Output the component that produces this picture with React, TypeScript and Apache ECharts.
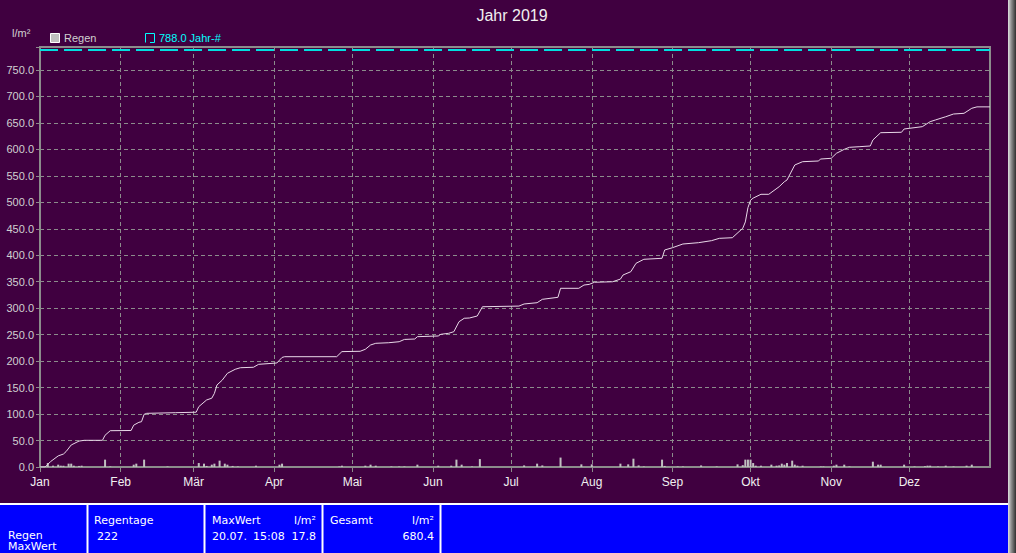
import React, { useEffect, useRef } from 'react';
import * as echarts from 'echarts';

const TITLE = 'Jahr 2019';
const UNIT = 'l/m²';
const MONTHS = ['Jan', 'Feb', 'Mär', 'Apr', 'Mai', 'Jun', 'Jul', 'Aug', 'Sep', 'Okt', 'Nov', 'Dez'];
const MONTH_START_DAYS = [0, 31, 59, 90, 120, 151, 181, 212, 243, 273, 304, 334];
const DAYS_IN_YEAR = 365;
const Y_MAX = 793.5;
const Y_STEP = 50;
const YEAR_MARK = 788.0;
const YEAR_MARK_NAME = 'Jahr-#';
const RAIN_NAME = 'Regen';

// cumulative rain (day of year, l/m²)
const CUM_DAYS = [0, 2, 4, 7, 9, 10, 12, 15, 17, 24, 25, 27, 35, 36, 38, 39, 40, 41, 52, 60, 61, 64, 66, 67, 68, 70, 72, 75, 77, 82, 84, 91, 93, 94, 114, 116, 123, 125, 127, 129, 134, 138, 140, 144, 145, 153, 154, 157, 159, 161, 163, 165, 168, 170, 184, 186, 191, 193, 199, 200, 207, 209, 211, 213, 220, 223, 224, 227, 229, 232, 239, 240, 243, 247, 253, 258, 261, 266, 270, 271, 272, 273, 274, 277, 280, 284, 286, 287, 290, 293, 299, 300, 304, 306, 309, 311, 315, 319, 320, 323, 331, 332, 339, 342, 344, 348, 351, 355, 358, 360, 365];
const CUM_VALUES = [0, 0, 10, 21, 24.5, 29, 41.6, 49, 50.4, 50.4, 60, 68.6, 69, 79, 84.4, 85.6, 99.5, 101.4, 102.6, 103.5, 114, 126.6, 130, 139, 155, 164, 177, 184.6, 187.6, 188.4, 194, 196.5, 207, 208.4, 208.4, 218, 218.6, 222.4, 230.5, 233.7, 234.8, 236.7, 241, 241.8, 246.2, 247.5, 250.7, 252.6, 255.6, 274.5, 281, 281.5, 285.3, 302.8, 304, 308, 310.4, 316.8, 320.6, 337.6, 337.6, 343.8, 345, 349, 350, 355, 362.7, 369, 384.8, 392.4, 394.3, 410, 414.3, 421.3, 423.8, 427.6, 432, 433.2, 451, 463, 490, 504, 508, 515.2, 515.2, 529.6, 539, 542.2, 570.6, 576.8, 578.1, 581.9, 583.2, 592.7, 600.2, 604, 605.2, 606.5, 617.8, 631.6, 632.4, 638.6, 643, 652.4, 655.6, 661.8, 666.9, 668.2, 677.7, 680.4, 680.4];

// daily rain bars (day of year, l/m²)
const RAIN_DAYS = [3, 5, 7, 8, 9, 11, 12, 13, 15, 16, 25, 27, 36, 37, 40, 49, 61, 63, 64, 66, 67, 69, 71, 72, 74, 76, 83, 92, 93, 115, 116, 125, 127, 129, 135, 138, 140, 145, 153, 158, 160, 162, 166, 169, 186, 191, 193, 200, 208, 212, 223, 226, 228, 230, 232, 239, 240, 245, 247, 254, 260, 268, 270, 271, 272, 273, 274, 275, 277, 281, 283, 284, 285, 286, 287, 289, 290, 291, 293, 300, 301, 305, 306, 309, 311, 320, 322, 323, 332, 336, 340, 341, 342, 345, 348, 351, 356, 358];
const RAIN_VALUES = [7.5, 2.5, 4.4, 2.5, 2.5, 6.3, 6.3, 2.5, 2, 2.5, 13.9, 1, 4.4, 6.3, 13.9, 1, 7.5, 6.3, 2, 4.4, 6.3, 12, 6.3, 4.4, 2, 1, 2.5, 4.4, 6.3, 1, 2.5, 2.5, 4.4, 2.5, 1, 1, 1, 4.4, 2.5, 2.5, 13.9, 4.4, 1, 15, 3, 6.3, 3, 17.8, 5, 5, 6.3, 5, 15.7, 3, 1, 13.9, 2, 1, 1, 3, 1, 5, 3.5, 13.9, 13.9, 13.9, 7.5, 2.5, 2.5, 4.4, 2.5, 3, 6.3, 4.4, 7.5, 12, 4.4, 2.5, 2.5, 1, 1, 2.5, 4.4, 4.4, 1, 10, 4.4, 4.4, 4.4, 1, 1.5, 2.5, 2.5, 1, 2.5, 1, 2.5, 4.4];

// statistics panel
const STAT_RAIN_DAYS = '222';
const STAT_MAX_DATE = '20.07.';
const STAT_MAX_TIME = '15:08';
const STAT_MAX_VALUE = 17.8;
const STAT_TOTAL = 680.4;

const FONT = '"Liberation Sans", Arial, sans-serif';
const PANEL_FONT = '"DejaVu Sans", Verdana, sans-serif';

export default function App() {
  const ref = useRef<HTMLDivElement>(null);

  useEffect(() => {
    if (!ref.current) return;
    const chart = echarts.init(ref.current, null, { renderer: 'svg' });
    const categories = Array.from({ length: DAYS_IN_YEAR + 1 }, (_, i) => String(i));
    const isMonthStart = (index: number) => MONTH_START_DAYS.indexOf(index) >= 0;
    const dash = [4, 3];

    const panelText = (text: string, x: number, y: number, align: string = 'left') => ({
      type: 'text',
      x,
      y,
      style: {
        text,
        fill: '#ffffff',
        font: `11px ${PANEL_FONT}`,
        textAlign: align,
        textVerticalAlign: 'middle',
      },
      z: 20,
    });

    const option: any = {
      animation: false,
      backgroundColor: '#400040',
      title: {
        text: TITLE,
        left: 507,
        top: 2,
        textAlign: 'center',
        textStyle: { color: '#f0f0f0', fontSize: 16, fontWeight: 'normal', fontFamily: FONT },
      },
      grid: {
        left: 40,
        right: 26,
        top: 47,
        bottom: 86,
        show: true,
        borderColor: '#8c8c8c',
        borderWidth: 2,
        backgroundColor: 'transparent',
      },
      xAxis: {
        type: 'category',
        data: categories,
        boundaryGap: false,
        axisLine: { show: true, lineStyle: { color: '#8c8c8c', width: 2 } },
        axisTick: {
          show: true,
          length: 5,
          interval: (index: number) => isMonthStart(index),
          lineStyle: { color: '#8c8c8c' },
        },
        axisLabel: {
          interval: (index: number) => isMonthStart(index),
          formatter: (_v: string, index: number) => MONTHS[MONTH_START_DAYS.indexOf(index)] ?? '',
          color: '#f0f0f0',
          fontSize: 12,
          fontFamily: FONT,
          margin: 9,
        },
        splitLine: {
          show: true,
          interval: (index: number) => isMonthStart(index),
          lineStyle: { color: '#8c8c8c', type: dash, width: 1 },
        },
      },
      yAxis: {
        type: 'value',
        min: 0,
        max: Y_MAX,
        interval: Y_STEP,
        axisLine: { show: true, lineStyle: { color: '#8c8c8c', width: 2 } },
        axisTick: { show: true, length: 4, lineStyle: { color: '#8c8c8c' } },
        axisLabel: {
          formatter: (v: number) => (Math.abs(v % Y_STEP) < 1e-6 ? v.toFixed(1) : ''),
          color: '#d0d0d0',
          fontSize: 11,
          fontFamily: FONT,
          margin: 6,
        },
        splitLine: { show: true, lineStyle: { color: '#8c8c8c', type: dash, width: 1 } },
      },
      series: [
        {
          name: RAIN_NAME,
          type: 'bar',
          data: RAIN_DAYS.map((d, i) => [d, RAIN_VALUES[i]]),
          barWidth: 2,
          itemStyle: { color: '#c0c0c0' },
          z: 3,
        },
        {
          name: 'Summe',
          type: 'line',
          data: CUM_DAYS.map((d, i) => [d, CUM_VALUES[i]]),
          showSymbol: false,
          symbol: 'none',
          lineStyle: { color: '#e8d8e8', width: 1 },
          z: 4,
          markLine: {
            silent: true,
            symbol: 'none',
            label: { show: false },
            lineStyle: { color: '#00e0e0', type: [18, 6], width: 2 },
            data: [{ yAxis: YEAR_MARK }],
          },
        },
      ],
      graphic: [
        {
          type: 'text',
          x: 12,
          y: 33,
          style: { text: UNIT, fill: '#d0d0d0', font: `11px ${FONT}`, textVerticalAlign: 'middle' },
        },
        {
          type: 'rect',
          shape: { x: 50.5, y: 33.5, width: 9, height: 9 },
          style: { fill: '#c0c0c0', stroke: '#ffffff', lineWidth: 1 },
        },
        {
          type: 'text',
          x: 64,
          y: 38,
          style: { text: RAIN_NAME, fill: '#d0d0d0', font: `11px ${FONT}`, textVerticalAlign: 'middle' },
        },
        {
          type: 'polyline',
          shape: { points: [[145.5, 42.5], [145.5, 33.5], [154.5, 33.5], [154.5, 42.5], [150, 42.5]] },
          style: { stroke: '#00ffff', lineWidth: 1, fill: 'none' },
        },
        {
          type: 'text',
          x: 159,
          y: 38,
          style: {
            text: `${YEAR_MARK.toFixed(1)} ${YEAR_MARK_NAME}`,
            fill: '#00ffff',
            font: `11px ${FONT}`,
            textVerticalAlign: 'middle',
          },
        },
        // statistics panel
        {
          type: 'rect',
          shape: { x: 0, y: 503, width: 1008, height: 50 },
          style: { fill: '#0000ff' },
          z: 10,
        },
        {
          type: 'line',
          shape: { x1: 0, y1: 504, x2: 1008, y2: 504 },
          style: { stroke: '#ffffff', lineWidth: 2 },
          z: 11,
        },
        ...[87.5, 204.5, 322.5, 440.5].map((x) => ({
          type: 'line',
          shape: { x1: x, y1: 504, x2: x, y2: 553 },
          style: { stroke: '#ffffff', lineWidth: 2 },
          z: 11,
        })),
        {
          type: 'rect',
          shape: { x: 1008, y: 0, width: 8, height: 553 },
          style: {
            fill: new echarts.graphic.LinearGradient(0, 0, 1, 0, [
              { offset: 0, color: '#e0e0e0' },
              { offset: 0.4, color: '#909090' },
              { offset: 1, color: '#303030' },
            ]),
          },
          z: 12,
        },
        panelText(RAIN_NAME, 8, 535),
        panelText('MaxWert', 8, 546),
        panelText('Regentage', 94, 520),
        panelText(STAT_RAIN_DAYS, 97, 536),
        panelText('MaxWert', 212, 520),
        panelText(UNIT, 316, 520, 'right'),
        panelText(STAT_MAX_DATE, 212, 536),
        panelText(STAT_MAX_TIME, 253, 536),
        panelText(STAT_MAX_VALUE.toFixed(1), 316, 536, 'right'),
        panelText('Gesamt', 330, 520),
        panelText(UNIT, 434, 520, 'right'),
        panelText(STAT_TOTAL.toFixed(1), 434, 536, 'right'),
      ],
    };

    chart.setOption(option);
    return () => chart.dispose();
  }, []);

  return (
    <div
      ref={ref}
      style={{ position: 'absolute', left: 0, top: 0, width: 1016, height: 553 }}
    />
  );
}
